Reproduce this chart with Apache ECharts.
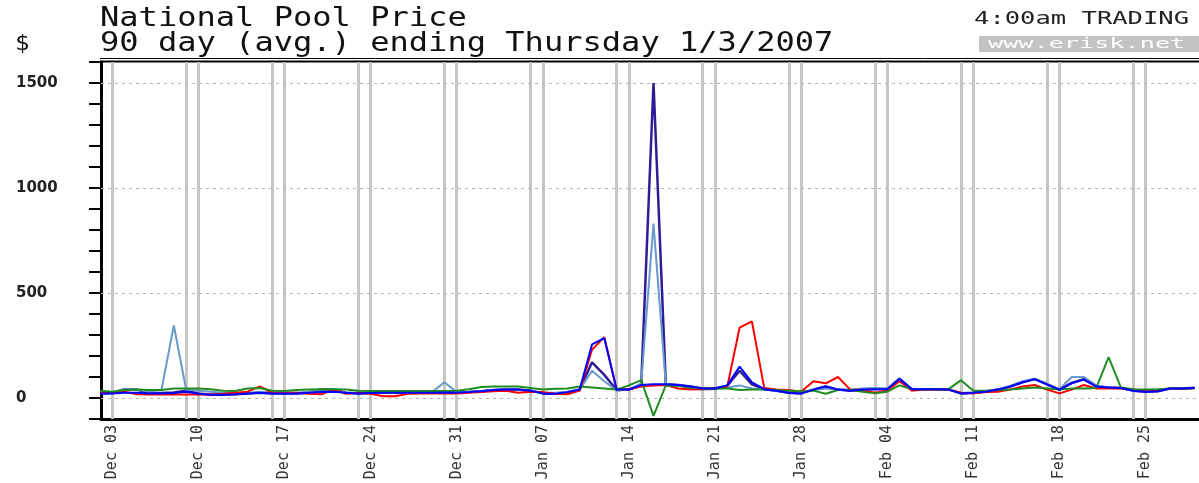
<!DOCTYPE html>
<html><head><meta charset="utf-8">
<script src="https://cdn.jsdelivr.net/npm/echarts@6/dist/echarts.min.js"></script>
<style>html,body{margin:0;padding:0;background:#fff}#c{width:1199px;height:483px}</style>
</head><body><div id="c"></div>
<script>
// day index 0 = Sat 2 Dec 2006 ... 89 = Thu 1 Mar 2007
const tickDays = [1, 8, 15, 22, 29, 36, 43, 50, 57, 64, 71, 78, 85];
const tickLabels = ['Dec 03', 'Dec 10', 'Dec 17', 'Dec 24', 'Dec 31', 'Jan 07', 'Jan 14', 'Jan 21', 'Jan 28', 'Feb 04', 'Feb 11', 'Feb 18', 'Feb 25'];
const weekendDays = [1, 7, 8, 14, 15, 21, 22, 28, 29, 35, 36, 42, 43, 49, 50, 56, 57, 63, 64, 70, 71, 77, 78, 84, 85];
const yLabelValues = [0, 500, 1000, 1500];

const seriesSA = [
  22, 24, 42, 40, 24, 24, 26, 35, 22, 16,
  15, 18, 22, 25, 22, 22, 22, 26, 42, 40,
  25, 22, 24, 25, 25, 25, 25, 25, 26, 25,
  28, 32, 38, 40, 40, 35, 22, 20, 28, 40,
  170, 110, 38, 40, 62, 1500, 65, 62, 55, 45,
  45, 58, 130, 65, 42, 35, 25, 22, 40, 55,
  40, 35, 42, 44, 42, 92, 42, 42, 42, 40,
  22, 25, 30, 40, 55, 75, 90, 65, 40, 72,
  90, 55, 50, 48, 35, 30, 32, 45, 45, 48
];
const seriesVIC = [
  25, 28, 42, 40, 30, 40, 345, 40, 35, 30,
  25, 22, 25, 30, 25, 25, 25, 30, 42, 40,
  25, 25, 25, 25, 25, 25, 25, 28, 75, 28,
  28, 32, 38, 40, 40, 35, 25, 25, 30, 40,
  130, 80, 35, 40, 70, 830, 65, 60, 45, 40,
  42, 50, 60, 45, 40, 35, 28, 25, 38, 45,
  40, 40, 45, 48, 45, 85, 42, 42, 42, 40,
  25, 25, 30, 40, 58, 80, 92, 68, 42, 100,
  100, 60, 50, 48, 35, 32, 35, 45, 48, 50
];
const seriesQLD = [
  25, 28, 30, 18, 17, 17, 17, 17, 17, 17,
  20, 25, 30, 55, 25, 25, 25, 20, 18, 40,
  20, 25, 20, 8, 8, 20, 22, 22, 22, 22,
  25, 28, 32, 35, 25, 30, 28, 20, 18, 35,
  230, 290, 40, 42, 55, 60, 62, 45, 40, 42,
  45, 55, 335, 365, 48, 40, 38, 30, 80, 70,
  100, 40, 38, 25, 35, 80, 35, 40, 40, 40,
  25, 22, 28, 30, 40, 55, 62, 40, 22, 40,
  62, 45, 45, 45, 40, 35, 35, 45, 45, 48
];
const seriesTAS = [
  35, 30, 38, 40, 38, 38, 45, 45, 45, 42,
  35, 33, 45, 48, 35, 33, 38, 40, 42, 42,
  40, 35, 33, 33, 33, 33, 33, 33, 33, 35,
  42, 52, 55, 55, 55, 48, 40, 44, 45, 55,
  50, 45, 40, 60, 85, -85, 60, 58, 50, 45,
  45, 45, 38, 40, 40, 38, 35, 32, 35, 20,
  38, 38, 30, 22, 30, 60, 42, 42, 42, 42,
  85, 35, 35, 38, 40, 45, 50, 45, 40, 45,
  45, 48, 195, 50, 42, 40, 42, 45, 45, 48
];
const seriesNSW = [
  22, 22, 25, 25, 22, 22, 24, 30, 20, 16,
  15, 18, 22, 25, 22, 22, 22, 25, 28, 30,
  25, 22, 24, 25, 25, 25, 25, 25, 26, 25,
  28, 32, 38, 40, 40, 35, 22, 20, 28, 40,
  255, 285, 40, 40, 62, 66, 65, 62, 55, 45,
  45, 60, 150, 75, 42, 35, 25, 22, 40, 55,
  40, 35, 40, 42, 42, 90, 42, 42, 42, 40,
  22, 25, 30, 40, 55, 75, 90, 65, 40, 70,
  88, 55, 50, 48, 35, 30, 32, 45, 45, 48
];

const toPairs = arr => arr.map((v, i) => [i, v]);
const mono = 'DejaVu Sans Mono';

const chart = echarts.init(document.getElementById('c'), null, {renderer: 'canvas'});

function lineSeries(name, data, color, width) {
  return {
    type: 'line', name: name, data: toPairs(data), symbol: 'none', smooth: false,
    lineStyle: {color: color, width: width}, itemStyle: {color: color},
    z: 3, animation: false, silent: true
  };
}

const gridMarks = weekendDays.map(d => ({xAxis: d, lineStyle: {color: '#c6c6c6', width: 3, type: 'solid'}}))
  .concat(yLabelValues.map(v => ({yAxis: v, lineStyle: {color: '#b4b4b4', width: 1, type: [3, 4]}})));

const first = lineSeries('SA', seriesSA, '#301c96', 2.5);
first.markLine = {silent: true, symbol: ['none', 'none'], label: {show: false}, animation: false, z: 1, data: gridMarks};

chart.setOption({
  animation: false,
  backgroundColor: '#ffffff',
  grid: {left: 101, right: 0, top: 62, bottom: 64, containLabel: false},
  xAxis: {
    type: 'value', min: 0.08, max: 89.35,
    axisLine: {show: true, onZero: false, lineStyle: {color: '#000', width: 3}},
    axisTick: {show: false},
    splitLine: {show: false},
    axisLabel: {
      customValues: tickDays,
      formatter: v => { const i = tickDays.indexOf(Math.round(v)); return i >= 0 ? tickLabels[i] : ''; },
      rotate: 90, margin: 6, fontFamily: mono, fontSize: 15, color: '#333'
    }
  },
  yAxis: {
    type: 'value', min: -100, max: 1600, interval: 100,
    axisLine: {show: true, onZero: false, lineStyle: {color: '#000', width: 3}},
    axisTick: {show: true, length: 12, lineStyle: {color: '#000', width: 2}},
    splitLine: {show: false},
    axisLabel: {
      customValues: yLabelValues,
      formatter: v => String(v),
      align: 'left', margin: 85, fontFamily: 'DejaVu Sans', fontWeight: 'bold', fontSize: 15, color: '#222'
    }
  },
  graphic: [
    {type: 'text', x: 100, y: 19, scaleX: 1.233, silent: true,
      style: {text: 'National Pool Price', fontFamily: mono, fontSize: 26, fill: '#111', align: 'left', verticalAlign: 'middle'}},
    {type: 'text', x: 100, y: 44.5, scaleX: 1.233, silent: true,
      style: {text: '90 day (avg.) ending Thursday 1/3/2007', fontFamily: mono, fontSize: 26, fill: '#111', align: 'left', verticalAlign: 'middle'}},
    {type: 'text', x: 15, y: 44.5, scaleX: 1.1, silent: true,
      style: {text: '$', fontFamily: mono, fontSize: 22, fill: '#111', align: 'left', verticalAlign: 'middle'}},
    {type: 'text', x: 1189, y: 19.5, scaleX: 1.5, silent: true,
      style: {text: '4:00am TRADING', fontFamily: mono, fontSize: 17, fill: '#222', align: 'right', verticalAlign: 'middle'}},
    {type: 'rect', shape: {x: 979, y: 36, width: 220, height: 16}, silent: true, style: {fill: '#c3c3c3'}},
    {type: 'text', x: 988, y: 44, scaleX: 1.8, silent: true,
      style: {text: 'www.erisk.net', fontFamily: mono, fontSize: 14, fill: '#ffffff', align: 'left', verticalAlign: 'middle'}},
    {type: 'line', shape: {x1: 100, y1: 58.5, x2: 1199, y2: 58.5}, silent: true, style: {stroke: '#000', lineWidth: 1}},
    {type: 'line', shape: {x1: 100, y1: 61.5, x2: 1199, y2: 61.5}, silent: true, style: {stroke: '#000', lineWidth: 2}}
  ],
  series: [
    first,
    lineSeries('VIC', seriesVIC, '#6699cc', 2),
    lineSeries('QLD', seriesQLD, '#ff0000', 2),
    lineSeries('TAS', seriesTAS, '#1e8c1e', 2),
    lineSeries('NSW', seriesNSW, '#0000ff', 2)
  ]
});
</script></body></html>
